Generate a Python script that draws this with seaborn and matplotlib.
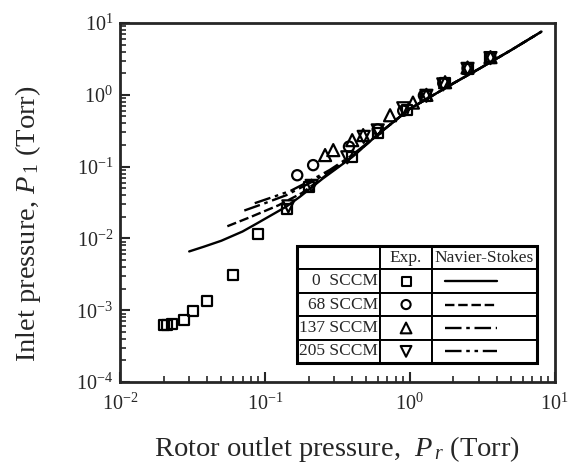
import numpy as np
import matplotlib
matplotlib.use("Agg")
import matplotlib.pyplot as plt
import seaborn as sns
import pandas as pd
from matplotlib.patches import Rectangle

# experimental points (rotor outlet pressure, inlet pressure), Torr
exp_0_x = [0.020, 0.0212, 0.0228, 0.0277, 0.0317, 0.0396, 0.0599, 0.089, 0.141, 0.20, 0.40, 0.60, 0.95, 1.30, 1.75, 2.5, 3.6]
exp_0_y = [6.2e-4, 6.2e-4, 6.4e-4, 7.3e-4, 9.8e-4, 1.36e-3, 3.06e-3, 0.0115, 0.026, 0.0515, 0.135, 0.29, 0.62, 0.95, 1.45, 2.3, 3.3]
exp_68_x = [0.167, 0.215, 0.38, 0.60, 0.90, 1.25, 1.70, 2.5, 3.6]
exp_68_y = [0.076, 0.105, 0.19, 0.33, 0.60, 0.98, 1.45, 2.35, 3.3]
exp_137_x = [0.26, 0.296, 0.40, 0.476, 0.73, 1.05, 1.30, 1.75, 2.5, 3.6]
exp_137_y = [0.145, 0.170, 0.234, 0.275, 0.52, 0.78, 1.0, 1.5, 2.4, 3.35]
exp_205_x = [0.145, 0.21, 0.37, 0.48, 0.60, 0.90, 1.30, 1.70, 2.5, 3.6]
exp_205_y = [0.028, 0.054, 0.135, 0.26, 0.32, 0.65, 0.97, 1.40, 2.3, 3.25]

# Navier-Stokes curves
ns_0_x = [0.030, 0.038, 0.05, 0.07, 0.088, 0.14, 0.174, 0.25, 0.4, 0.6, 1.0, 1.4, 2.0, 3.0, 5.0, 8.1]
ns_0_y = [0.0066, 0.0077, 0.0093, 0.0125, 0.0162, 0.0277, 0.038, 0.068, 0.136, 0.28, 0.64, 0.95, 1.45, 2.3, 4.2, 7.6]
ns_68_x = [0.055, 0.08, 0.124, 0.18, 0.25, 0.4, 0.6, 1.0, 1.4, 2.0, 3.0, 5.0, 8.1]
ns_68_y = [0.0148, 0.020, 0.029, 0.043, 0.070, 0.138, 0.28, 0.64, 0.95, 1.45, 2.3, 4.2, 7.6]
ns_137_x = [0.072, 0.10, 0.14, 0.20, 0.28, 0.4, 0.6, 1.0, 1.4, 2.0, 3.0, 5.0, 8.1]
ns_137_y = [0.0245, 0.031, 0.040, 0.058, 0.085, 0.14, 0.28, 0.64, 0.95, 1.45, 2.3, 4.2, 7.6]
ns_205_x = [0.085, 0.11, 0.15, 0.20, 0.28, 0.4, 0.6, 1.0, 1.4, 2.0, 3.0, 5.0, 8.1]
ns_205_y = [0.031, 0.037, 0.046, 0.062, 0.090, 0.145, 0.28, 0.64, 0.95, 1.45, 2.3, 4.2, 7.6]

flows = ["0  SCCM", "68 SCCM", "137 SCCM", "205 SCCM"]
markers = ["s", "o", "^", "v"]
marker_sizes = [52, 54, 75, 75]
dash_styles = ["", (4, 1.6), (7, 2, 1.5, 2), (7, 2, 1.5, 2, 1.5, 2)]

df_exp = pd.DataFrame({
    "x": exp_0_x + exp_68_x + exp_137_x + exp_205_x,
    "y": exp_0_y + exp_68_y + exp_137_y + exp_205_y,
    "flow": [flows[0]] * len(exp_0_x) + [flows[1]] * len(exp_68_x)
            + [flows[2]] * len(exp_137_x) + [flows[3]] * len(exp_205_x),
})
df_ns = pd.DataFrame({
    "x": ns_0_x + ns_68_x + ns_137_x + ns_205_x,
    "y": ns_0_y + ns_68_y + ns_137_y + ns_205_y,
    "flow": [flows[0]] * len(ns_0_x) + [flows[1]] * len(ns_68_x)
            + [flows[2]] * len(ns_137_x) + [flows[3]] * len(ns_205_x),
})

sns.set_style("ticks")
plt.rcParams["font.family"] = ["Liberation Serif", "DejaVu Serif"]
plt.rcParams["mathtext.fontset"] = "custom"
plt.rcParams["mathtext.rm"] = "Liberation Serif"
plt.rcParams["mathtext.it"] = "Liberation Serif:italic"

fig = plt.figure(figsize=(5.69, 4.70), dpi=100)
ax = fig.add_axes([0.211, 0.187, 0.764, 0.764])

sns.lineplot(data=df_ns, x="x", y="y", style="flow", style_order=flows,
             dashes=dict(zip(flows, dash_styles)), color="black", linewidth=1.7,
             sort=False, estimator=None, legend=False, ax=ax)

for flow, m, s in zip(flows, markers, marker_sizes):
    sns.scatterplot(data=df_exp[df_exp["flow"] == flow], x="x", y="y", marker=m, s=s,
                    color="black", facecolor="none", edgecolor="black", linewidth=1.6,
                    legend=False, ax=ax, zorder=3)

ax.set_xscale("log")
ax.set_yscale("log")
ax.set_xlim(1e-2, 1e1)
ax.set_ylim(1e-4, 1e1)

for side in ["left", "bottom", "top", "right"]:
    ax.spines[side].set_linewidth(2.0)
ax.tick_params(which="major", direction="in", length=7, width=1.5, labelsize=14.5)
ax.tick_params(which="minor", direction="in", length=4, width=1.2)
ax.tick_params(axis="x", which="both", pad=8)
ax.tick_params(axis="y", which="both", pad=5)

ax.set_xlabel(r"Rotor outlet pressure,  $P_{\,r}$ (Torr)", fontsize=20.5, labelpad=14)
ax.set_ylabel(r"Inlet pressure, $P_{\,\mathit{1}}$ (Torr)", fontsize=20.5, labelpad=24)
ax.yaxis.label.set_y(0.44)

# legend as a table
tx0, ty0, tw, th = 0.407, 0.053, 0.552, 0.326
col_w = [0.346, 0.217, 0.437]
tbl = ax.table(cellText=[[f, "", ""] for f in flows],
               colLabels=["", "Exp.", "Navier-Stokes"],
               cellLoc="right", colLoc="center", colWidths=col_w,
               bbox=[tx0, ty0, tw, th])
tbl.auto_set_font_size(False)
tbl.set_fontsize(12.5)
for cell in tbl.get_celld().values():
    cell.set_linewidth(1.4)
    cell.set_facecolor("white")
    cell.PAD = 0.02
ax.add_patch(Rectangle((tx0, ty0), tw, th, transform=ax.transAxes, fill=False,
                       linewidth=2.2, edgecolor="black", zorder=5))

row_h = th / 5
mx = tx0 + tw * (col_w[0] + col_w[1] / 2)
lx0 = tx0 + tw * (col_w[0] + col_w[1] + 0.12 * col_w[2])
lx1 = tx0 + tw * (col_w[0] + col_w[1] + 0.62 * col_w[2])
for i, (m, s, d) in enumerate(zip(markers, marker_sizes, dash_styles)):
    cy = ty0 + th - (i + 1.5) * row_h
    ax.scatter([mx], [cy], marker=m, s=s * 0.8, facecolor="none", edgecolor="black",
               linewidth=1.5, transform=ax.transAxes, zorder=6, clip_on=False)
    ln, = ax.plot([lx0, lx1], [cy, cy], color="black", linewidth=1.7,
                  transform=ax.transAxes, zorder=6)
    if d:
        ln.set_dashes(d)

fig.savefig("out.png", dpi=100)
